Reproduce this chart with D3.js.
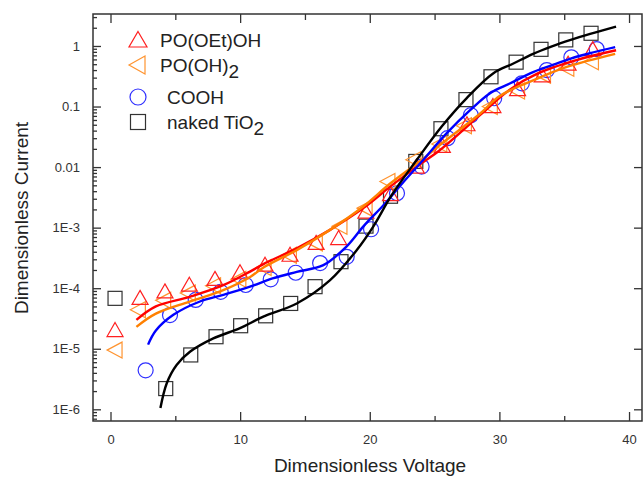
<!DOCTYPE html>
<html><head><meta charset="utf-8">
<script src="https://cdn.jsdelivr.net/npm/d3@7"></script>
<style>
body{margin:0;background:#fff;}
text{font-family:"Liberation Sans",Arial,sans-serif;}
</style></head>
<body><svg id="c" width="643" height="477"></svg>
<script>
// ---- data ----
const legendLabels = ["PO(OEt)OH", "PO(OH)", "COOH", "naked TiO"];
const xTicks = [0, 10, 20, 30, 40];
const yTicks = [1, 0.1, 0.01, 1e-3, 1e-4, 1e-5, 1e-6];
const yTickLabels = ["1", "0.1", "0.01", "1E-3", "1E-4", "1E-5", "1E-6"];

// markers
const etX = [0.35, 2.28, 4.2, 6.08, 8.06, 9.99, 11.92, 13.85, 15.86, 17.6, 19.7, 21.6, 23.6, 25.6, 27.5, 29.5, 31.4, 33.3, 35.3, 37.2];
const etY = [2.0e-5, 6.8e-5, 8.7e-5, 1.12e-4, 1.4e-4, 1.8e-4, 2.4e-4, 3.5e-4, 5.5e-4, 6.6e-4, 1.8e-3, 3.5e-3, 0.010, 0.022, 0.050, 0.10, 0.19, 0.32, 0.50, 0.87];
const ohX = [0.35, 2.15, 4.1, 6.0, 7.95, 9.9, 11.85, 13.8, 15.8, 17.7, 19.64, 21.4, 23.4, 25.4, 27.3, 29.3, 31.4, 33.4, 35.2, 37.1];
const ohY = [9.5e-6, 4.4e-5, 6.3e-5, 8.3e-5, 1.1e-4, 1.4e-4, 2.2e-4, 3.5e-4, 5.6e-4, 1.05e-3, 2.1e-3, 5.8e-3, 0.0132, 0.024, 0.048, 0.10, 0.18, 0.33, 0.43, 0.55];
const coX = [2.71, 4.59, 6.57, 8.5, 10.43, 12.36, 14.29, 16.17, 18.22, 20.1, 22.1, 24.0, 26.0, 27.8, 29.6, 31.73, 33.66, 35.55, 37.5];
const coY = [4.4e-6, 3.6e-5, 6.4e-5, 8.7e-5, 1.13e-4, 1.4e-4, 1.8e-4, 2.6e-4, 3.3e-4, 9.4e-4, 3.7e-3, 0.0102, 0.030, 0.072, 0.137, 0.242, 0.40, 0.65, 0.89];
const tiX = [0.35, 4.26, 6.19, 8.14, 10.04, 11.97, 13.9, 15.78, 17.78, 19.71, 21.6, 23.55, 25.49, 27.42, 29.35, 31.29, 33.21, 35.12, 37.07];
const tiY = [6.8e-5, 2.2e-6, 7.9e-6, 1.58e-5, 2.4e-5, 3.5e-5, 5.6e-5, 1.06e-4, 2.74e-4, 1.06e-3, 3.3e-3, 0.0124, 0.043, 0.13, 0.31, 0.54, 0.88, 1.26, 1.62];

// fitted curves
const etFitX = [2.0, 3.5, 6.1, 8.7, 10.8, 11.8, 14.4, 16.9, 19.5, 21.6, 23.9, 25.4, 28.5, 30.8, 33, 36, 39];
const etFitY = [3.0e-5, 5.0e-5, 7.2e-5, 1.12e-4, 1.9e-4, 2.5e-4, 4.6e-4, 9.1e-4, 2.1e-3, 4.8e-3, 0.0112, 0.019, 0.072, 0.19, 0.355, 0.59, 0.85];
const ohFitX = [2.0, 3.5, 6.1, 8.7, 10.8, 11.8, 14.4, 16.9, 19.5, 21.6, 23.9, 25.5, 28.5, 30.05, 32.6, 35.2, 38.93];
const ohFitY = [2.3e-5, 3.8e-5, 6.0e-5, 9.3e-5, 1.55e-4, 2.2e-4, 4.3e-4, 9.1e-4, 2.24e-3, 5.4e-3, 0.0126, 0.024, 0.076, 0.151, 0.27, 0.45, 0.74];
const coFitX = [2.9, 3.5, 4.85, 6.9, 8.7, 10.76, 12.5, 14.37, 16.42, 18.22, 19.51, 21.05, 22.5, 24.13, 25.94, 27.74, 29.28, 30.8, 32.6, 34.17, 35.5, 37.0, 38.93];
const coFitY = [1.17e-5, 2.0e-5, 3.63e-5, 6.03e-5, 7.76e-5, 1.06e-4, 1.45e-4, 1.86e-4, 2.4e-4, 4.9e-4, 1.05e-3, 2.34e-3, 5.37e-3, 0.0132, 0.0363, 0.087, 0.166, 0.24, 0.37, 0.49, 0.62, 0.76, 0.955];
const tiFitX = [3.85, 4.34, 5.1, 6.13, 7.93, 9.99, 11.79, 14.37, 16.94, 19.0, 20.28, 21.7, 23.63, 25.55, 27.48, 29.54, 31.08, 32.6, 34.0, 35.5, 37.0, 39.0];
const tiFitY = [1.05e-6, 2.7e-6, 5.4e-6, 8.9e-6, 1.48e-5, 2.19e-5, 3.39e-5, 5.6e-5, 1.36e-4, 4.27e-4, 1.05e-3, 3.47e-3, 0.0132, 0.0468, 0.138, 0.355, 0.513, 0.741, 0.977, 1.26, 1.58, 2.09];

// ---- chart ----
const L = 93, R = 642, T = 14, B = 421;
const svg = d3.select("#c");
const x = d3.scaleLinear().domain([-1.35, 41.0]).range([L, R]);
const y = d3.scaleLog().domain([Math.pow(10, -6.193), Math.pow(10, 0.528)]).range([B, T]);
const axisCol = "#333";

svg.append("defs").append("clipPath").attr("id", "clip")
  .append("rect").attr("x", L).attr("y", T).attr("width", R - L).attr("height", B - T);

// frame
svg.append("rect").attr("x", L).attr("y", T).attr("width", R - L).attr("height", B - T)
  .attr("fill", "none").attr("stroke", axisCol).attr("stroke-width", 1.5);

// x ticks (bottom + top)
const xMinor = [5, 15, 25, 35];
const gx = svg.append("g").attr("transform", `translate(0,${B})`)
  .call(d3.axisBottom(x).tickValues(xTicks).tickSize(-9).tickPadding(14).tickFormat(d3.format("d")));
const gxm = svg.append("g").attr("transform", `translate(0,${B})`)
  .call(d3.axisBottom(x).tickValues(xMinor).tickSize(-5).tickFormat(""));
const gxt = svg.append("g").attr("transform", `translate(0,${T})`)
  .call(d3.axisTop(x).tickValues(xTicks).tickSize(-9).tickFormat(""));
const gxtm = svg.append("g").attr("transform", `translate(0,${T})`)
  .call(d3.axisTop(x).tickValues(xMinor).tickSize(-6).tickFormat(""));

// y ticks (left + right)
const minorY = [];
for (let e = -7; e <= 0; e++) for (let m = 2; m <= 9; m++) {
  const v = m * Math.pow(10, e);
  if (v > y.domain()[0] && v < y.domain()[1]) minorY.push(v);
}
const gy = svg.append("g").attr("transform", `translate(${L},0)`)
  .call(d3.axisLeft(y).tickValues(yTicks).tickSize(-8).tickPadding(13).tickFormat((d, i) => yTickLabels[i]));
const gym = svg.append("g").attr("transform", `translate(${L},0)`)
  .call(d3.axisLeft(y).tickValues(minorY).tickSize(-4).tickFormat(""));
const gyr = svg.append("g").attr("transform", `translate(${R},0)`)
  .call(d3.axisRight(y).tickValues(yTicks).tickSize(-8).tickFormat(""));

[gx, gxm, gxt, gxtm, gy, gym, gyr].forEach(g => {
  g.select(".domain").remove();
  g.selectAll(".tick line").attr("stroke", axisCol).attr("stroke-width", 1.3);
  g.selectAll("text").attr("fill", "#333").style("font-size", "13px");
});

// axis titles
svg.append("text").attr("x", 370).attr("y", 472).attr("text-anchor", "middle")
  .style("font-size", "19px").attr("fill", "#222").text("Dimensionless Voltage");
svg.append("text").attr("transform", "translate(28,218) rotate(-90)").attr("text-anchor", "middle")
  .style("font-size", "19px").attr("fill", "#222").text("Dimensionless Current");

// marker shapes
const triUp = "M0,-8L8,6L-8,6Z";
const triLeft = "M-8,0L7,-8L7,8Z";
const cRed = "#ff2020", cOr = "#ff9430", cBlue = "#3030ff", cBlk = "#333";

const plot = svg.append("g").attr("clip-path", "url(#clip)");
const mk = plot.append("g").attr("fill", "none").attr("stroke-width", 1.2);

mk.selectAll(".sq").data(d3.zip(tiX, tiY)).join("rect")
  .attr("x", d => x(d[0]) - 7).attr("y", d => y(d[1]) - 7).attr("width", 14).attr("height", 14)
  .attr("stroke", cBlk);
mk.selectAll(".ci").data(d3.zip(coX, coY)).join("circle")
  .attr("cx", d => x(d[0])).attr("cy", d => y(d[1])).attr("r", 7.5).attr("stroke", cBlue);
mk.selectAll(".tl").data(d3.zip(ohX, ohY)).join("path")
  .attr("d", triLeft).attr("transform", d => `translate(${x(d[0])},${y(d[1])})`).attr("stroke", cOr);
mk.selectAll(".tu").data(d3.zip(etX, etY)).join("path")
  .attr("d", triUp).attr("transform", d => `translate(${x(d[0])},${y(d[1])})`).attr("stroke", cRed);

const line = d3.line().x(d => x(d[0])).y(d => y(d[1])).curve(d3.curveCatmullRom.alpha(0.5));
const fits = [
  [etFitX, etFitY, "#ff0000"],
  [ohFitX, ohFitY, "#ff8000"],
  [coFitX, coFitY, "#0000ff"],
  [tiFitX, tiFitY, "#000000"]
];
fits.forEach(f => {
  plot.append("path").attr("d", line(d3.zip(f[0], f[1])))
    .attr("fill", "none").attr("stroke", f[2]).attr("stroke-width", 2.4);
});

// legend
const lg = svg.append("g");
const lx = 138;
const rows = [
  {cy: 40, base: 47, tx: 160, shape: "tu"},
  {cy: 65, base: 72, tx: 160, shape: "tl"},
  {cy: 97, base: 104, tx: 167, shape: "ci"},
  {cy: 122, base: 129, tx: 167, shape: "sq"}
];
rows.forEach((r, i) => {
  if (r.shape === "tu") lg.append("path").attr("d", "M0,-8.5L9,7L-9,7Z").attr("transform", `translate(${lx},${r.cy})`).attr("fill", "none").attr("stroke", cRed).attr("stroke-width", 1.2);
  if (r.shape === "tl") lg.append("path").attr("d", "M-9,0L7,-9L7,9Z").attr("transform", `translate(${lx},${r.cy})`).attr("fill", "none").attr("stroke", cOr).attr("stroke-width", 1.2);
  if (r.shape === "ci") lg.append("circle").attr("cx", lx).attr("cy", r.cy).attr("r", 8).attr("fill", "none").attr("stroke", cBlue).attr("stroke-width", 1.2);
  if (r.shape === "sq") lg.append("rect").attr("x", lx - 7.5).attr("y", r.cy - 7.5).attr("width", 15).attr("height", 15).attr("fill", "none").attr("stroke", cBlk).attr("stroke-width", 1.2);
  const t = lg.append("text").attr("x", r.tx).attr("y", r.base).style("font-size", "19px").attr("fill", "#222").text(legendLabels[i]);
  if (i === 1 || i === 3) t.append("tspan").attr("dy", 6).style("font-size", "19px").text("2");
});
</script></body></html>
